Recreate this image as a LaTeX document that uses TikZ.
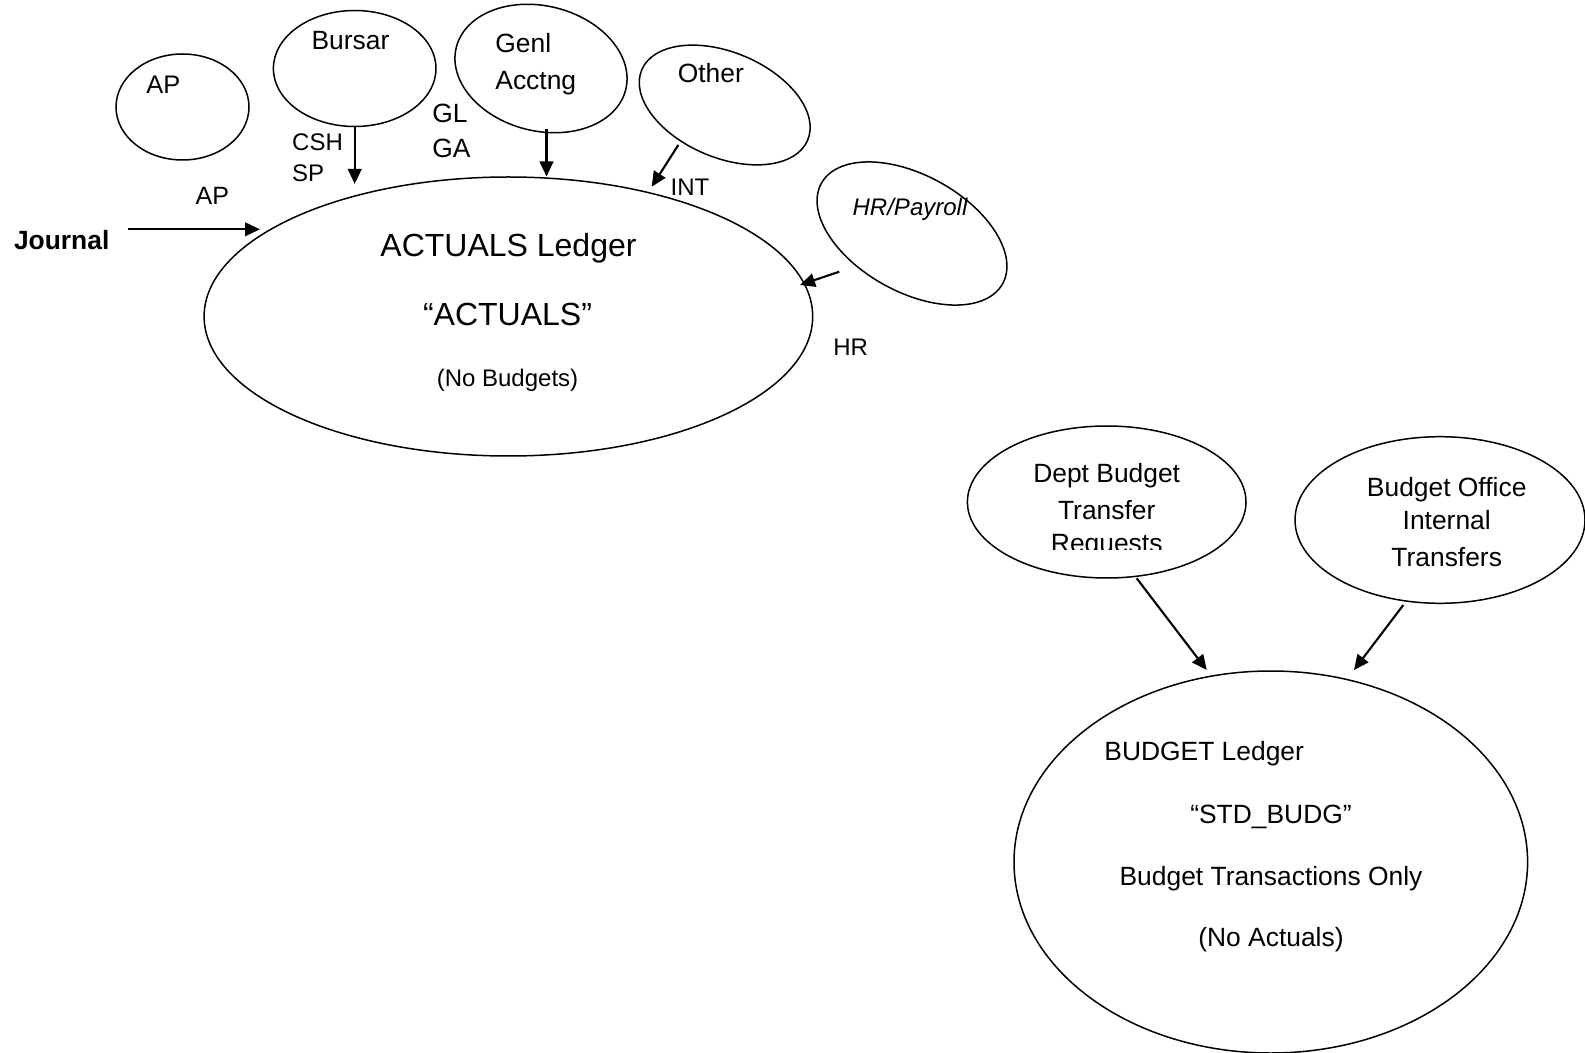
\documentclass[tikz,border=0pt]{standalone}
\usepackage{fontspec}
\setmainfont{Liberation Sans}
\usetikzlibrary{shapes.geometric,arrows.meta}
\begin{document}
\begin{tikzpicture}[x=0.5pt,y=-0.5pt,
  ell/.style={draw, ellipse, inner sep=0pt, outer sep=0pt, line width=0.75pt},
  arr/.style={line width=1.05pt, -{Triangle[length=7.5pt,width=6.8pt]}},
  tbig/.style={font=\fontsize{16}{19}\selectfont, inner sep=0pt, anchor=base},
  tmid/.style={font=\fontsize{13.2}{16}\selectfont, inner sep=0pt, anchor=base},
  tsml/.style={font=\fontsize{12}{14}\selectfont, inner sep=0pt, anchor=base}]
\useasboundingbox (0,0) rectangle (1585,1053);
% ellipses
\node[ell, minimum width=66.5pt, minimum height=53pt] (apE) at (182.5,107) {};
\node[ell, minimum width=81.3pt, minimum height=58pt] (bursar) at (354.7,68.5) {};
\node[ell, minimum width=87.3pt, minimum height=62.5pt, rotate=-14] (genl) at (541,68.5) {};
\node[ell, minimum width=90.1pt, minimum height=52.6pt, rotate=-23] (other) at (724.7,105) {};
\node[ell, minimum width=103.6pt, minimum height=58.3pt, rotate=-29] (hrpay) at (912,233.5) {};
\node[ell, minimum width=304.3pt, minimum height=139.5pt] (actuals) at (508.4,316.5) {};
\node[ell, minimum width=139.3pt, minimum height=76pt] (dept) at (1106.7,502) {};
\node[ell, minimum width=145pt, minimum height=83.3pt] (bo) at (1440,520) {};
\node[ell, minimum width=256.8pt, minimum height=191pt] (budget) at (1270.8,862) {};
% texts inside ellipses
\node[tmid, font=\fontsize{12.7}{15}\selectfont] (apT) at (163.3,94) {AP};
\node[tmid] (bursarT) at (350.5,49.5) {Bursar};
\node[tmid, anchor=base west] (genlT1) at (495,52.5) {Genl};
\node[tmid, anchor=base west] (genlT2) at (495,89.5) {Acctng};
\node[tmid] (otherT) at (710.8,82.5) {Other};
\node[tsml, font=\fontsize{12}{14}\selectfont\itshape] (hrpayT) at (910,215.3) {HR/Payroll};
\node[tbig] (actT1) at (508.5,257) {ACTUALS Ledger};
\node[tbig] (actT2) at (507.5,325.9) {“ACTUALS”};
\node[tsml] (actT3) at (507.5,386.6) {(No Budgets)};
\node[tmid] (deptT1) at (1106.7,482.8) {Dept Budget};
\node[tmid] (deptT2) at (1106.7,519.5) {Transfer};
\begin{scope}
  \clip (1000,520) rectangle (1220,549.3);
  \node[tmid] (deptT3) at (1106.7,552.8) {Requests};
\end{scope}
\node[tmid] (boT1) at (1446.7,496.2) {Budget Office};
\node[tmid] (boT2) at (1446.7,529.5) {Internal};
\node[tmid] (boT3) at (1446.7,566.2) {Transfers};
\node[tmid, anchor=base west] (budT1) at (1104,760.5) {BUDGET Ledger};
\node[tmid] (budT2) at (1271,823.5) {“STD\_BUDG”};
\node[tmid] (budT3) at (1271,885) {Budget Transactions Only};
\node[tmid] (budT4) at (1271,946.5) {(No Actuals)};
% connector labels
\node[tsml, anchor=base west] (cshL) at (291.8,150.6) {CSH};
\node[tsml, anchor=base west] (spL) at (291.8,181.6) {SP};
\node[tmid, anchor=base west] (glL) at (432,123) {GL};
\node[tmid, anchor=base west] (gaL) at (432,157.5) {GA};
\node[tsml] (intL) at (690,195.3) {INT};
\node[tsml, font=\fontsize{12.5}{15}\selectfont] (apL) at (212.3,205) {AP};
\node[tmid, font=\fontsize{13.2}{16}\selectfont\bfseries] (journal) at (61.7,249.5) {Journal};
\node[tsml] (hrL) at (850.7,355.3) {HR};
% connector end points
\coordinate (bT) at (354.7,184);
\coordinate (gS) at (546.5,129);
\coordinate (gT) at (546.5,176.5);
\coordinate (oS) at (678.3,145);
\coordinate (oT) at (651.7,186.7);
\coordinate (hS) at (839.3,271.7);
\coordinate (hT) at (800,285);
\coordinate (jS) at (128.3,229.3);
\coordinate (jT) at (260,229.3);
\coordinate (dS) at (1136.7,578.3);
\coordinate (dT) at (1206.7,670);
\coordinate (boS) at (1403.3,605);
\coordinate (boE) at (1354,670);
% connectors
\draw[arr] (bursar.south) -- (bT);
\draw[arr] (gS) -- (gT);
\draw[arr] (oS) -- (oT);
\draw[arr] (hS) -- (hT);
\draw[arr] (jS) -- (jT);
\draw[arr] (dS) -- (dT);
\draw[arr] (boS) -- (boE);
\end{tikzpicture}
\end{document}
